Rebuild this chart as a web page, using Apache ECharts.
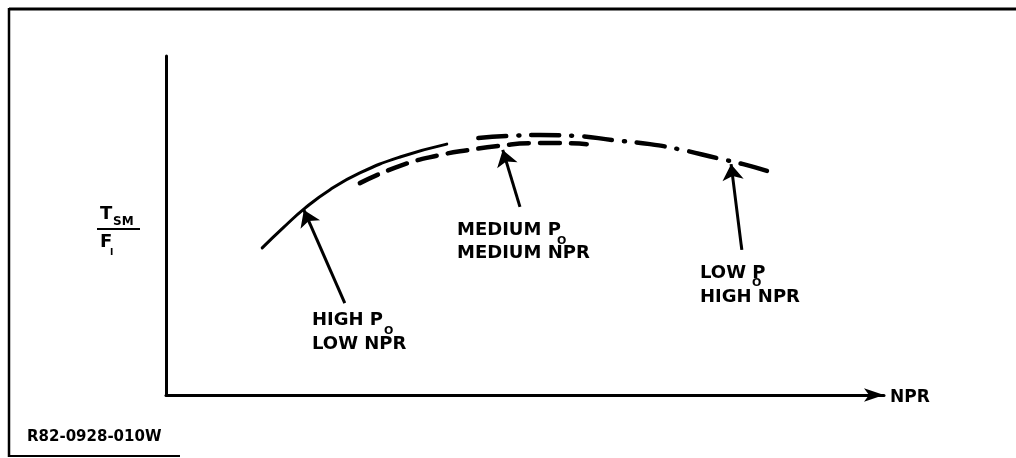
<!DOCTYPE html>
<html>
<head>
<meta charset="utf-8">
<script src="https://cdn.jsdelivr.net/npm/echarts@6/dist/echarts.min.js"></script>
<style>
  html, body { margin: 0; padding: 0; background: #fff; }
  #chart { width: 1016px; height: 458px; }
</style>
</head>
<body>
<div id="chart"></div>
<script>
// curve values (NPR 0-100, T_SM/F_I 0-100)
const highPoX = [13.4, 16.3, 19.4, 22.8, 27.0, 32.6, 39.1];
const highPoY = [43.4, 49.3, 55.2, 60.5, 65.5, 70.2, 74.0];

const medPoX = [27.0, 32.6, 38.2, 42.3, 46.5, 50.7, 54.9, 58.6];
const medPoY = [62.5, 67.6, 70.8, 72.3, 73.5, 74.3, 74.3, 74.0];

const lowPoX = [43.5, 47.6, 52.1, 57.2, 62.3, 67.4, 71.9, 76.7, 80.4, 83.7];
const lowPoY = [75.8, 76.4, 76.7, 76.4, 75.2, 74.0, 72.3, 69.9, 68.1, 66.1];

// pointer arrows: [tailX, tailY, tipX, tipY]
const arrowHigh = [24.9, 27.1, 19.2, 54.6];
const arrowMed = [49.3, 55.5, 46.9, 72.3];
const arrowLow = [80.2, 42.8, 78.7, 68.1];

const xName = "NPR";
const figId = "R82-0928-010W";

function pairs(xs, ys) {
  return xs.map((x, i) => [x, ys[i]]);
}
function arrow(a) {
  return { coords: [[a[0], a[1]], [a[2], a[3]]] };
}

const FONT = "DejaVu Sans";
function txt(x, y, s, size, extra) {
  return Object.assign({
    type: "text",
    x: x,
    y: y,
    style: {
      text: s,
      fill: "#000",
      font: "bold " + size + "px '" + FONT + "'",
      verticalAlign: "middle"
    }
  }, extra || {});
}
function seg(x1, y1, x2, y2, w) {
  return {
    type: "line",
    shape: { x1: x1, y1: y1, x2: x2, y2: y2 },
    style: { stroke: "#000", lineWidth: w }
  };
}

const chart = echarts.init(document.getElementById("chart"));
const axisBase = {
  type: "value",
  min: 0,
  max: 100,
  splitLine: { show: false },
  axisTick: { show: false },
  axisLabel: { show: false }
};

chart.setOption({
  animation: false,
  backgroundColor: "#fff",
  grid: { left: 166, right: 132, top: 56, bottom: 63 },
  xAxis: Object.assign({}, axisBase, {
    axisLine: {
      show: true,
      symbol: ["none", "arrow"],
      symbolSize: [10, 20],
      lineStyle: { color: "#000", width: 3 }
    }
  }),
  yAxis: Object.assign({}, axisBase, {
    axisLine: { show: true, lineStyle: { color: "#000", width: 3 } }
  }),
  series: [
    {
      type: "line",
      smooth: true,
      showSymbol: false,
      data: pairs(highPoX, highPoY),
      lineStyle: { color: "#000", width: 3, cap: "round" }
    },
    {
      type: "line",
      smooth: true,
      showSymbol: false,
      data: pairs(medPoX, medPoY),
      lineStyle: { color: "#000", width: 4.5, type: [20, 11], cap: "round" }
    },
    {
      type: "line",
      smooth: true,
      showSymbol: false,
      data: pairs(lowPoX, lowPoY),
      lineStyle: { color: "#000", width: 4.5, type: [28, 12, 1, 12], cap: "round" }
    },
    {
      type: "lines",
      coordinateSystem: "cartesian2d",
      symbol: ["none", "arrow"],
      symbolSize: [10, 16],
      data: [arrow(arrowHigh), arrow(arrowMed), arrow(arrowLow)],
      lineStyle: { color: "#000", width: 3, opacity: 1 }
    }
  ],
  graphic: [
    // frame
    seg(9, 9, 1016, 9, 3),
    seg(9, 8, 9, 457, 2.5),
    seg(8, 456, 180, 456, 2),
    // y axis name
    txt(100, 214, "T", 18),
    txt(113, 222, "SM", 12),
    seg(97, 229, 140, 229, 2),
    txt(100, 242, "F", 18),
    txt(110, 253, "I", 9),
    // annotations
    txt(312, 320, "HIGH P", 18),
    txt(384, 331, "O", 11),
    txt(312, 344, "LOW NPR", 18),
    txt(457, 230, "MEDIUM P", 18),
    txt(557, 241, "O", 11),
    txt(457, 253, "MEDIUM NPR", 18),
    txt(700, 273, "LOW P", 18),
    txt(752, 283, "O", 11),
    txt(700, 297, "HIGH NPR", 18),
    txt(890, 398, xName, 17),
    txt(27, 437, figId, 15)
  ]
});
</script>
</body>
</html>
